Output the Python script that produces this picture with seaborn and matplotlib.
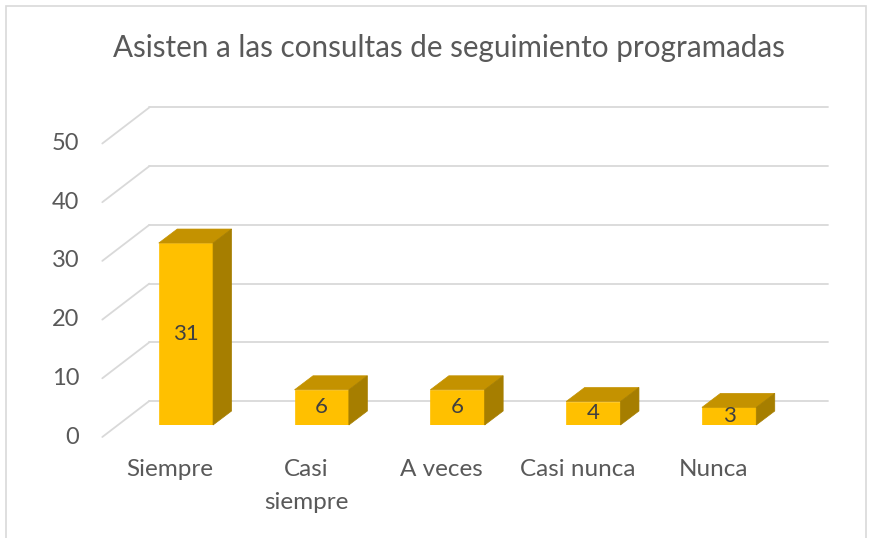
import matplotlib
matplotlib.use("Agg")
import matplotlib.pyplot as plt
import seaborn as sns
from matplotlib.patches import Polygon, Rectangle

categorias = ["Siempre", "Casi\nsiempre", "A veces", "Casi nunca", "Nunca"]
valores = [31, 6, 6, 4, 3]
ticks_y = [0, 10, 20, 30, 40, 50]
titulo = "Asisten a las consultas de seguimiento programadas"

sns.set_theme(style="white")
plt.rcParams["font.family"] = ["Lato", "DejaVu Sans"]

GRIS_TEXTO = "#595959"
GRIS_LINEA = "#D9D9D9"

fig = plt.figure(figsize=(8.8, 5.38), dpi=100)
ax = fig.add_axes([118 / 880, 113 / 538, (797 - 118) / 880, 293.5 / 538])
sns.barplot(x=categorias, y=valores, color="#FFC000", saturation=1,
            width=0.4, ax=ax, zorder=3, edgecolor="#FFC000", linewidth=0.5)
ax.set_ylim(0, 50)
ax.set_xlim(-0.5, 4.5)
ax.axis("off")

x0, x1 = ax.get_xlim()
y0, y1 = ax.get_ylim()
# pixeles por unidad de datos
ux = ax.bbox.width / (x1 - x0)
uy = ax.bbox.height / (y1 - y0)

# desplazamientos de la "perspectiva" (en px -> datos)
prof = (18.5 / ux, 14 / uy)      # profundidad de las barras
fondo = (31.3 / ux, 24 / uy)     # pared del fondo
frente = (-15.7 / ux, -12 / uy)  # borde delantero del piso

# lineas de la pared del fondo y del piso lateral
for v in ticks_y:
    ax.plot([x0 + fondo[0], x1 + fondo[0]], [v + fondo[1]] * 2,
            color=GRIS_LINEA, lw=1.3, zorder=1, clip_on=False)
    ax.plot([x0 + frente[0], x0 + fondo[0]], [v + frente[1], v + fondo[1]],
            color=GRIS_LINEA, lw=1.3, zorder=1, clip_on=False)
    ax.text(x0 + frente[0] - 23 / ux, v + frente[1], str(v), ha="right",
            va="center", fontsize=17, color=GRIS_TEXTO)

# caras superior y lateral de cada barra + etiqueta
for p, v in zip(ax.patches, valores):
    bx, w, h = p.get_x(), p.get_width(), p.get_height()
    dx, dy = prof
    arriba = Polygon([(bx, h), (bx + w, h), (bx + w + dx, h + dy), (bx + dx, h + dy)],
                     closed=True, fc="#C49200", ec="#C49200", lw=0.5,
                     zorder=3, clip_on=False)
    lado = Polygon([(bx + w, 0), (bx + w + dx, dy), (bx + w + dx, h + dy), (bx + w, h)],
                   closed=True, fc="#A67E00", ec="#A67E00", lw=0.5,
                   zorder=3, clip_on=False)
    ax.add_patch(arriba)
    ax.add_patch(lado)
    ax.text(bx + w / 2, h / 2, str(v), ha="center", va="center",
            fontsize=16, color="#404040", zorder=4)

# etiquetas de categorias en el borde delantero
for p, cat in zip(ax.patches, categorias):
    cx = p.get_x() + p.get_width() / 2
    ax.text(cx + frente[0], frente[1] - 22 / uy, cat, ha="center", va="top",
            fontsize=17.5, color=GRIS_TEXTO, linespacing=1.7)

fig.text(449 / 880, 1 - 48 / 538, titulo, ha="center", va="center",
         fontsize=21.3, color=GRIS_TEXTO)

# borde del area del grafico
fig.patches.append(Rectangle((6 / 880, -0.1), 860 / 880, 1.1 - 6 / 538,
                             transform=fig.transFigure, fill=False,
                             ec=GRIS_LINEA, lw=1.2))

fig.savefig("out.png", dpi=100)
